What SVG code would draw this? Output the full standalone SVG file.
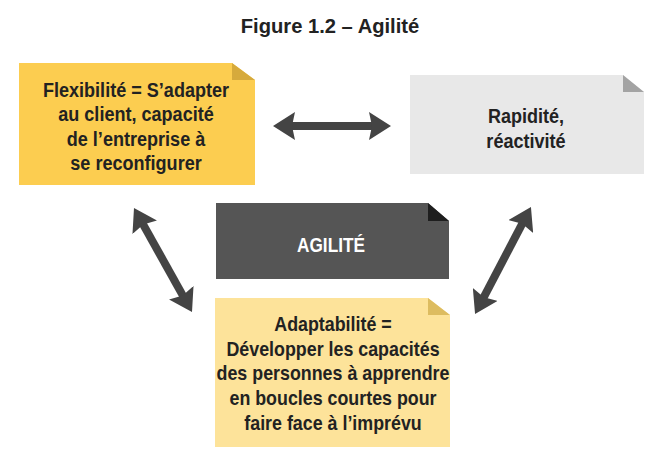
<svg xmlns="http://www.w3.org/2000/svg" width="666" height="468" viewBox="0 0 666 468">
<defs>
<style>
text{font-family:"Liberation Sans",Arial,sans-serif;font-weight:bold;text-anchor:middle;fill:#222;font-size:21px}
.w{fill:#fff}
.arr{stroke:#444;stroke-width:8;fill:none;marker-start:url(#ah);marker-end:url(#ah)}
</style>
<marker id="ah" viewBox="0 0 22 28" refX="7" refY="14" markerWidth="22" markerHeight="28" markerUnits="userSpaceOnUse" orient="auto-start-reverse">
<path d="M0,0 L22,14 L0,28 L3,14 z" fill="#444"/>
</marker>
</defs>
<rect width="666" height="468" fill="#fff"/>
<g transform="translate(330 0) scale(0.96 1)"><text x="0" y="33">Figure 1.2 – Agilité</text></g>
<g id="connectors">
<line class="arr" x1="288" y1="126" x2="376" y2="126"/>
<line class="arr" x1="141.3" y1="221.1" x2="184.7" y2="298.9"/>
<line class="arr" x1="524" y1="220.3" x2="482" y2="300.7"/>
</g>
<g id="flexibilite">
<path d="M19,63 H232 L255,80 V185 H19 z" fill="#fccd50"/>
<path d="M232,63 L255,80 H232 z" fill="#d6aa3c"/>
<g transform="translate(136 0) scale(0.86 1)">
<text x="0" y="97">Flexibilité = S’adapter</text>
<text x="0" y="121.5">au client, capacité</text>
<text x="0" y="146">de l’entreprise à</text>
<text x="0" y="170.5">se reconfigurer</text>
</g>
</g>
<g id="rapidite">
<path d="M410,75 H623 L644,92 V174 H410 z" fill="#e8e8e8"/>
<path d="M623,75 L644,92 H623 z" fill="#a3a3a3"/>
<g transform="translate(526 0) scale(0.86 1)">
<text x="0" y="123">Rapidité,</text>
<text x="0" y="148">réactivité</text>
</g>
</g>
<g id="agilite">
<path d="M216,203 H428 L449,221 V279 H216 z" fill="#555555"/>
<path d="M428,203 L449,221 H428 z" fill="#1e1e1e"/>
<g transform="translate(331 0) scale(0.82 1)">
<text class="w" x="0" y="252">AGILITÉ</text>
</g>
</g>
<g id="adaptabilite">
<path d="M215,298 H428 L450,315 V447 H215 z" fill="#fde39a"/>
<path d="M428,298 L450,315 H428 z" fill="#ddbc60"/>
<g transform="translate(333 0) scale(0.85 1)">
<text x="0" y="331">Adaptabilité =</text>
<text x="0" y="355.7">Développer les capacités</text>
<text x="0" y="380.4">des personnes à apprendre</text>
<text x="0" y="405.1">en boucles courtes pour</text>
<text x="0" y="429.8">faire face à l’imprévu</text>
</g>
</g>
</svg>
